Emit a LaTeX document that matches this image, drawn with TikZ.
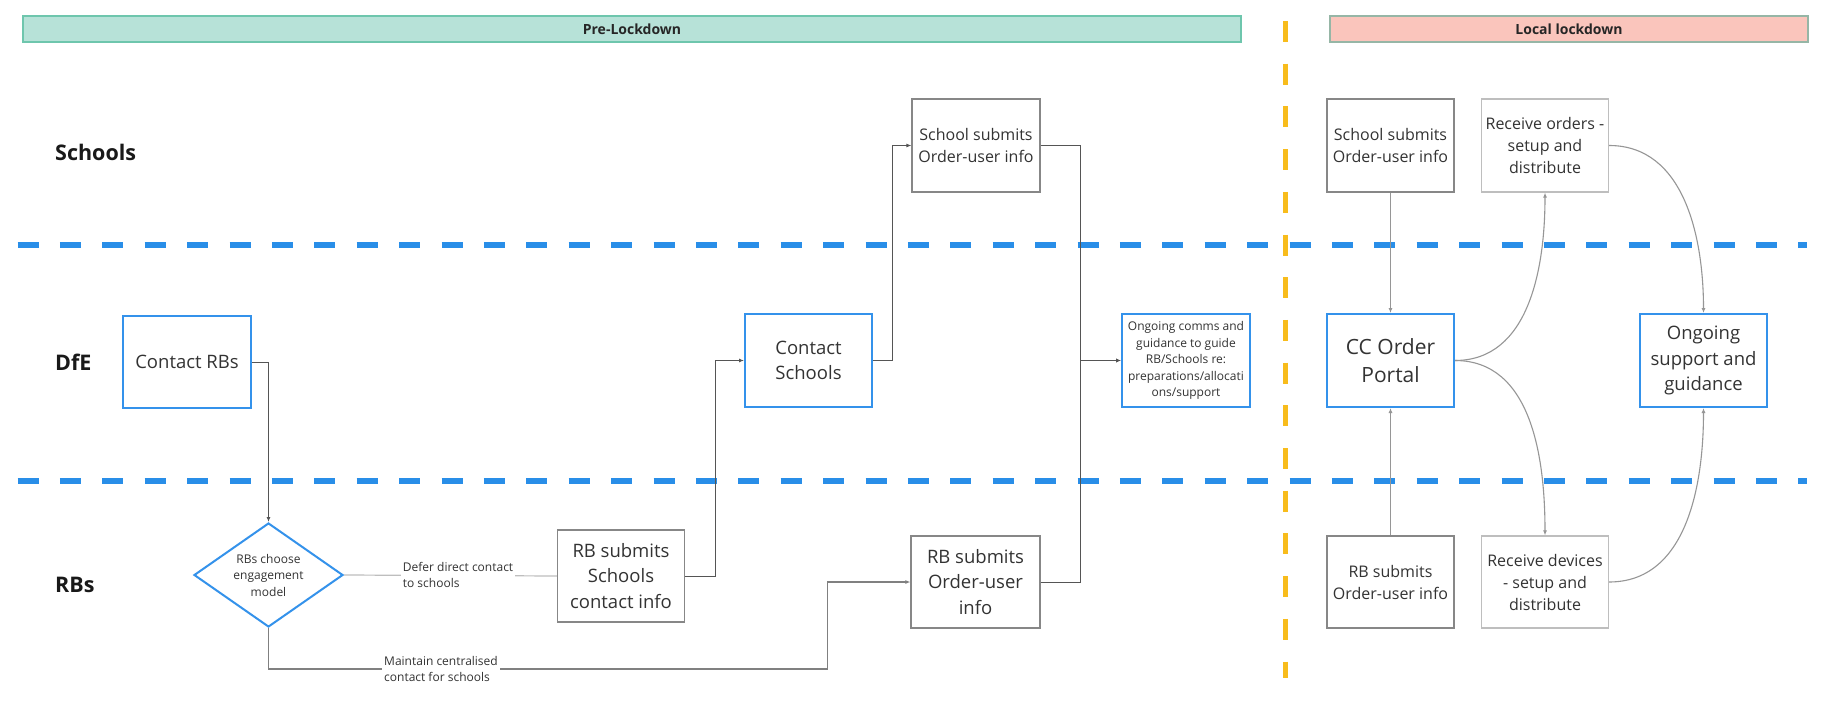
\documentclass[tikz,border=0pt]{standalone}
\usepackage{fontspec}
\setmainfont{Open Sans}
\usetikzlibrary{arrows.meta,shapes.geometric}
\definecolor{bluebox}{RGB}{52,146,235}
\definecolor{bluedash}{RGB}{41,142,232}
\definecolor{yel}{RGB}{248,188,28}
\definecolor{tealfill}{RGB}{183,226,216}
\definecolor{tealdraw}{RGB}{110,198,173}
\definecolor{pinkfill}{RGB}{250,197,188}
\definecolor{pinkdraw}{RGB}{150,182,166}
\definecolor{txt}{RGB}{51,51,51}
\definecolor{darkbd}{RGB}{135,135,135}
\definecolor{lightbd}{RGB}{190,190,190}
\definecolor{conn}{RGB}{85,85,85}
\definecolor{connmid}{RGB}{128,128,128}
\definecolor{connlight}{RGB}{190,190,190}
\definecolor{connloc}{RGB}{150,150,150}
\newcommand\szBig{\fontsize{18.5}{25.5}\selectfont}
\newcommand\szMid{\fontsize{16}{22}\selectfont}
\newcommand\szSmall{\fontsize{12}{16.5}\selectfont}
\newcommand\szCC{\fontsize{21}{28}\selectfont}
\begin{document}
\begin{tikzpicture}[x=1pt,y=-1pt,
  box/.style={rectangle,minimum width=127pt,minimum height=92pt,inner sep=2pt,align=center,text=txt},
  bluebx/.style={box,draw=bluebox,line width=2pt},
  darkbx/.style={box,draw=darkbd,line width=1.2pt},
  lightbx/.style={box,draw=lightbd,line width=1.2pt},
  lane/.style={anchor=west,inner sep=0pt,font=\bfseries\fontsize{21.5}{26}\selectfont,text=black!90},
  phase/.style={rectangle,inner sep=0pt,minimum height=26pt,line width=1.4pt,font=\bfseries\fontsize{14}{16}\selectfont,text=black!85},
  elabel/.style={anchor=west,fill=white,inner sep=2pt,align=left,font=\szSmall,text=txt},
  tip/.style={-{Latex[length=5pt,width=4pt]}},
  pre/.style={draw=conn,line width=1pt},
  loc/.style={draw=connloc,line width=1.1pt},
  lanesep/.style={draw=bluedash,line width=6pt,dash pattern=on 21pt off 21.4pt},
  phasesep/.style={draw=yel,line width=5pt,dash pattern=on 21pt off 21.7pt}
]
\useasboundingbox[fill=white] (0,0) rectangle (1829,709);

% phase bars
\node[phase,fill=tealfill,draw=tealdraw,minimum width=1218pt] (prebar) at (632,29) {Pre-Lockdown};
\node[phase,fill=pinkfill,draw=pinkdraw,minimum width=478pt] (locbar) at (1569,29) {Local lockdown};

% separators
\coordinate (s1a) at (17.5,245); \coordinate (s1b) at (1807,245);
\coordinate (s2a) at (17.5,481); \coordinate (s2b) at (1807,481);
\coordinate (v1a) at (1285,21); \coordinate (v1b) at (1285,678);
\draw[lanesep] (s1a) -- (s1b);
\draw[lanesep] (s2a) -- (s2b);
\draw[phasesep] (v1a) -- (v1b);

% lane labels
\node[lane] (lschools) at (55,152) {Schools};
\node[lane] (ldfe) at (55,362) {DfE};
\node[lane] (lrbs) at (55,585) {RBs};

% pre-lockdown nodes
\node[bluebx,minimum width=128pt,font=\szBig] (crb) at (187,362) {Contact RBs};
\node[diamond,draw=bluebox,line width=2pt,minimum width=149pt,minimum height=104pt,inner sep=0pt,shape aspect=1.43,align=center,font=\szSmall,text=txt] (dia) at (268.5,575) {RBs choose\\engagement\\model};
\node[darkbx,font=\szBig] (rbs) at (621,576) {RB submits\\Schools\\contact info};
\node[bluebx,font=\szBig,minimum height=93pt] (cs) at (808.5,360.5) {Contact\\Schools};
\node[darkbx,minimum width=128pt,minimum height=93pt,font=\szMid] (ssp) at (976,145.5) {School submits\\Order-user info};
\node[darkbx,minimum width=129pt,font=\szBig] (rbp) at (975.5,582) {RB submits\\Order-user\\info};
\node[bluebx,minimum width=128pt,minimum height=93pt,font=\szSmall] (ocg) at (1186,360.5) {Ongoing comms and\\guidance to guide\\RB/Schools re:\\preparations/allocati\\ons/support};

% local lockdown nodes
\node[darkbx,minimum height=93pt,font=\szMid] (ssl) at (1390.5,145.5) {School submits\\Order-user info};
\node[lightbx,minimum height=93pt,font=\szMid] (ro) at (1545,145.5) {Receive orders -\\setup and\\distribute};
\node[bluebx,minimum height=93pt,font=\szCC] (cco) at (1390.5,360.5) {CC Order\\Portal};
\node[bluebx,minimum height=93pt,font=\szBig] (osg) at (1703.5,360.5) {Ongoing\\support and\\guidance};
\node[darkbx,font=\szMid] (rbl) at (1390.5,582) {RB submits\\Order-user info};
\node[lightbx,font=\szMid] (rd) at (1545,582) {Receive devices\\- setup and\\distribute};

% junction coordinates
\coordinate (j1) at (827.6,669);
\coordinate (j2) at (715,0);
\coordinate (j3) at (892,0);
\coordinate (j4) at (1080.6,0);

% pre-lockdown connectors
\draw[pre,tip] (crb.east) -| (dia.north);
\draw[draw=connlight,line width=1.2pt] (dia.east) -- (rbs.west);
\node[elabel] (ldefer) at (400.7,575) {Defer direct contact\\to schools};
\draw[draw=connmid,line width=1.1pt,tip] (dia.south) |- (j1) |- (rbp.west);
\node[elabel] (lmaint) at (382,669) {Maintain centralised\\contact for schools};
\draw[pre,tip] (rbs.east) -- (rbs.east -| j2) |- (cs.west);
\draw[pre,tip] (cs.east) -- (cs.east -| j3) |- (ssp.west);
\draw[pre,tip] (ssp.east) -- (ssp.east -| j4) |- (ocg.west);
\draw[pre,tip] (rbp.east) -- (rbp.east -| j4) |- (ocg.west);

% local lockdown connectors
\draw[loc,tip] (ssl.south) -- (cco.north);
\draw[loc,tip] (rbl.north) -- (cco.south);
\draw[loc,tip] (cco.east) to[out=0,in=-90] (ro.south);
\draw[loc,tip] (cco.east) to[out=0,in=90] (rd.north);
\draw[loc,tip] (ro.east) to[out=0,in=90] (osg.north);
\draw[loc,tip] (rd.east) to[out=0,in=-90] (osg.south);
\end{tikzpicture}
\end{document}
